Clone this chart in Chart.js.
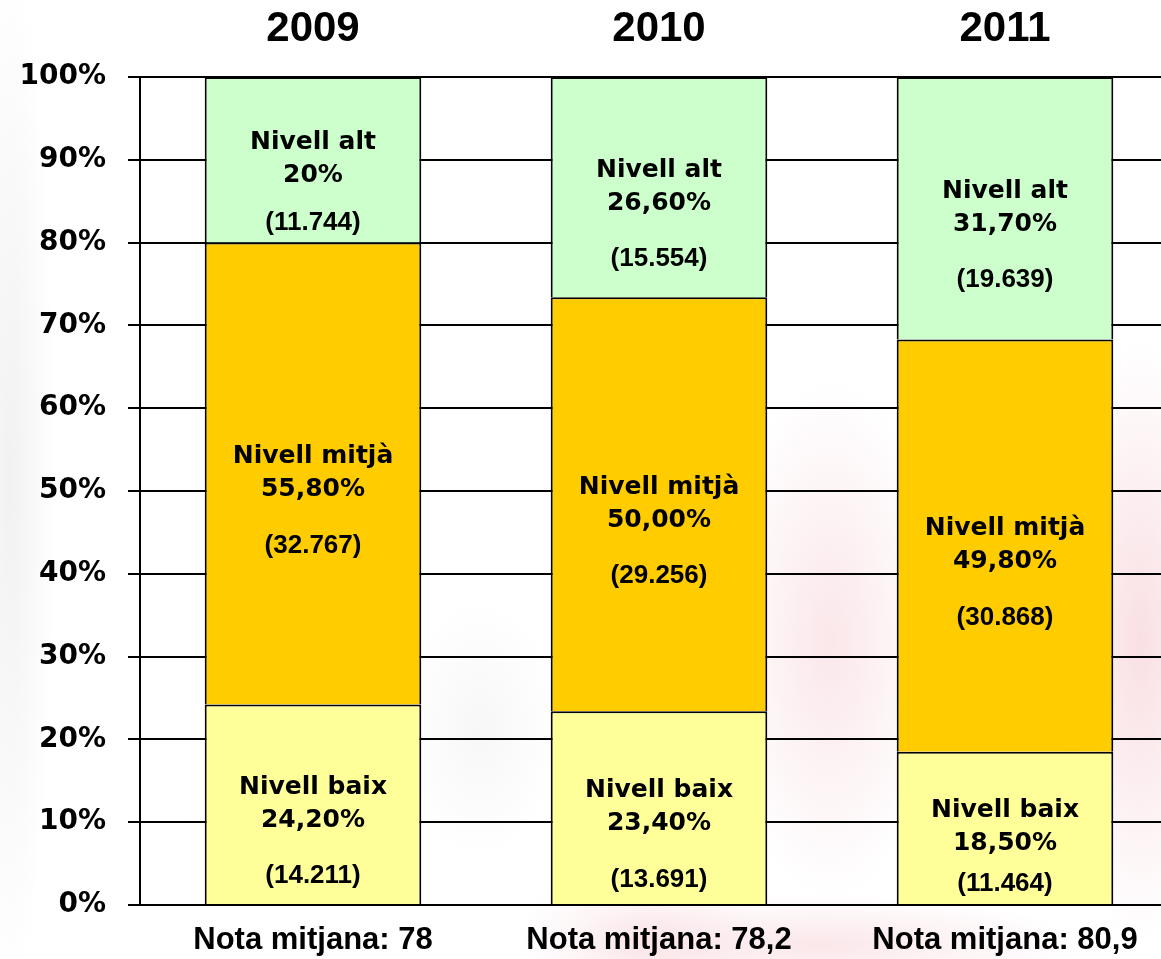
<!DOCTYPE html>
<html>
<head>
<meta charset="utf-8">
<script src="https://cdn.jsdelivr.net/npm/chart.js@4.4.0/dist/chart.umd.min.js"></script>
<style>
  html, body {
    margin: 0;
    padding: 0;
    overflow: hidden;
    width: 1161px;
    height: 959px;
  }
  body {
    background:
      radial-gradient(ellipse 45px 520px at 10px 480px, rgba(200,200,200,0.25), transparent),
      radial-gradient(ellipse 80px 130px at 480px 730px, rgba(215,215,215,0.2), transparent),
      radial-gradient(ellipse 110px 260px at 830px 640px, rgba(240,175,185,0.3), transparent),
      radial-gradient(ellipse 90px 300px at 1140px 640px, rgba(240,175,185,0.4), transparent),
      radial-gradient(ellipse 260px 50px at 820px 945px, rgba(240,175,185,0.3), transparent),
      radial-gradient(ellipse 120px 80px at 640px 940px, rgba(240,175,185,0.25), transparent),
      #ffffff;
  }
  canvas { display: block; }
</style>
</head>
<body>
<canvas id="chart" width="1178" height="959"></canvas>
<script>
// Categories
const years = ['2009', '2010', '2011'];
const notes = ['Nota mitjana: 78', 'Nota mitjana: 78,2', 'Nota mitjana: 80,9'];

// Percentages per level
const baix = [24.2, 23.4, 18.5];
const mitja = [55.8, 50.0, 49.8];
const alt = [20.0, 26.6, 31.7];

// Text shown inside the segments
const baixPct = ['24,20%', '23,40%', '18,50%'];
const mitjaPct = ['55,80%', '50,00%', '49,80%'];
const altPct = ['20%', '26,60%', '31,70%'];

// Students per level
const baixCount = [14211, 13691, 11464];
const mitjaCount = [32767, 29256, 30868];
const altCount = [11744, 15554, 19639];

const yTicks = [0, 10, 20, 30, 40, 50, 60, 70, 80, 90, 100];

function fmtCount(n) {
  return '(' + String(n).replace(/\B(?=(\d{3})+(?!\d))/g, '.') + ')';
}

// draws the three text lines in every segment
const segmentLabels = {
  id: 'segmentLabels',
  afterDatasetsDraw(chart) {
    const ctx = chart.ctx;
    ctx.save();
    ctx.fillStyle = '#000';
    ctx.textAlign = 'center';
    ctx.textBaseline = 'middle';
    chart.data.datasets.forEach((ds, i) => {
      const meta = chart.getDatasetMeta(i);
      meta.data.forEach((bar, j) => {
        const top = Math.min(bar.y, bar.base);
        const bottom = Math.max(bar.y, bar.base);
        const cy = (top + bottom) / 2;
        ctx.font = 'bold 25px "DejaVu Sans"';
        ctx.fillText(ds.levelName, bar.x, cy - 17);
        ctx.fillText(ds.pctText[j], bar.x, cy + 16);
        const gap = Math.min(56, bottom - (cy + 16) - 20);
        ctx.font = 'bold 26px "Liberation Sans", Arial';
        ctx.fillText(fmtCount(ds.counts[j]), bar.x, cy + 16 + gap);
      });
    });
    ctx.restore();
  }
};

const ctx = document.getElementById('chart').getContext('2d');
new Chart(ctx, {
  type: 'bar',
  data: {
    labels: notes,
    datasets: [
      {
        label: 'Nivell baix',
        levelName: 'Nivell baix',
        data: baix,
        pctText: baixPct,
        counts: baixCount,
        backgroundColor: '#FFFF99'
      },
      {
        label: 'Nivell mitjà',
        levelName: 'Nivell mitjà',
        data: mitja,
        pctText: mitjaPct,
        counts: mitjaCount,
        backgroundColor: '#FFCC00'
      },
      {
        label: 'Nivell alt',
        levelName: 'Nivell alt',
        data: alt,
        pctText: altPct,
        counts: altCount,
        backgroundColor: '#CCFFCC'
      }
    ].map(ds => Object.assign(ds, {
      borderColor: '#000',
      borderWidth: { top: 2, left: 2, right: 2, bottom: 0 },
      borderSkipped: false,
      categoryPercentage: 1,
      barPercentage: 0.626
    }))
  },
  options: {
    responsive: false,
    animation: false,
    layout: { padding: 0 },
    plugins: {
      legend: { display: false },
      tooltip: { enabled: false }
    },
    scales: {
      x: {
        stacked: true,
        position: 'bottom',
        grid: { display: false, drawTicks: false },
        border: { display: false },
        ticks: {
          color: '#000',
          padding: 17,
          maxRotation: 0,
          autoSkip: false,
          font: { family: '"Liberation Sans", Arial', weight: 'bold', size: 31 }
        },
        afterFit: s => { s.height = 54; }
      },
      x2: {
        type: 'category',
        labels: years,
        position: 'top',
        offset: true,
        grid: { display: false, drawTicks: false },
        border: { display: false },
        ticks: {
          color: '#000',
          padding: 22,
          font: { family: '"Liberation Sans", Arial', weight: 'bold', size: 42 }
        },
        afterFit: s => { s.height = 77; }
      },
      y: {
        stacked: true,
        min: 0,
        max: 100,
        afterBuildTicks: s => { s.ticks = yTicks.map(v => ({ value: v })); },
        grid: {
          color: '#000',
          lineWidth: 2,
          tickLength: 12,
          tickColor: '#000'
        },
        border: { display: true, color: '#000', width: 2 },
        ticks: {
          color: '#000',
          padding: 22,
          font: { family: '"DejaVu Sans"', weight: 'bold', size: 28 },
          callback: v => v + '%'
        },
        afterFit: s => { s.width = 140; }
      }
    }
  },
  plugins: [segmentLabels]
});
</script>
</body>
</html>
